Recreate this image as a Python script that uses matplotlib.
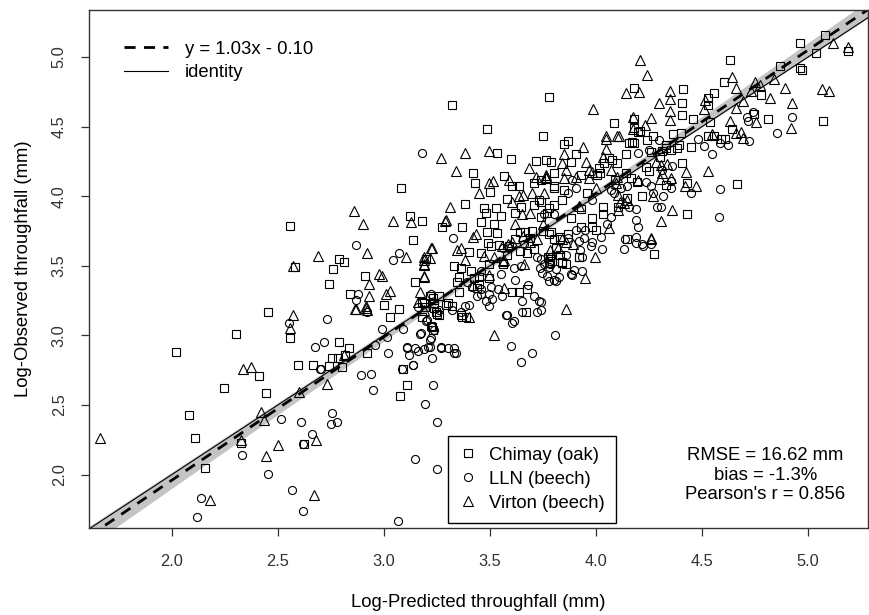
import numpy as np
import matplotlib
matplotlib.use("Agg")
import matplotlib.pyplot as plt
from matplotlib.lines import Line2D

plt.rcParams['font.family'] = ['Liberation Sans', 'DejaVu Sans']

# (log predicted, log observed)
chimay = [
    (2.02, 2.88), (2.30, 3.01), (2.455, 3.17), (2.555, 2.98), (2.41, 2.71), (2.245, 2.62), (2.445, 2.585),
    (2.08, 2.43), (2.11, 2.26), (2.155, 2.045), (2.325, 2.23), (2.625, 2.22), (2.595, 2.79), (2.665, 2.785),
    (2.74, 2.78), (2.755, 2.84), (2.79, 2.95), (2.80, 2.77), (2.835, 2.91), (2.785, 2.835), (2.815, 2.86),
    (2.92, 2.875), (3.075, 2.565), (3.09, 2.755), (3.11, 2.645), (3.03, 3.13), (3.07, 3.19),
    (3.08, 4.06), (2.555, 3.785), (3.125, 3.86), (3.18, 3.82), (3.135, 3.685), (2.58, 3.49), (2.79, 3.55),
    (2.81, 3.53), (2.76, 3.48), (2.74, 3.37), (2.91, 3.425), (3.145, 3.385), (3.20, 3.55), (2.84, 3.30),
    (3.0, 3.22), (4.275, 3.585), (4.145, 3.69), (3.92, 3.56), (3.84, 3.52), (3.86, 3.515),
    (5.08, 5.16), (5.19, 5.045), (4.96, 5.10), (5.04, 5.03), (4.63, 4.98), (4.87, 4.935), (4.96, 4.92),
    (4.97, 4.905), (4.605, 4.82), (4.78, 4.73), (4.555, 4.74), (4.53, 4.705), (4.53, 4.655), (4.41, 4.77),
    (4.405, 4.67), (4.405, 4.58), (4.46, 4.555), (4.54, 4.535), (4.745, 4.59), (4.81, 4.555), (5.07, 4.54),
    (4.64, 4.48), (4.53, 4.43), (4.555, 4.43), (4.59, 4.41), (4.61, 4.41), (4.45, 4.355), (4.365, 4.45),
    (4.40, 4.455), (4.38, 4.345), (4.33, 4.345), (4.31, 4.325), (4.39, 4.37), (4.405, 4.24), (4.33, 4.08),
    (4.43, 4.095), (4.665, 4.09), (4.43, 3.87),
    (3.32, 4.655), (3.78, 4.71), (4.18, 4.78), (3.485, 4.48), (3.75, 4.43), (3.85, 4.375), (3.87, 4.40),
    (4.085, 4.525), (4.18, 4.555), (4.18, 4.49), (4.21, 4.47), (4.17, 4.39), (4.18, 4.38),
    (4.20, 4.46), (4.155, 4.385), (4.14, 4.30), (4.24, 4.405), (4.27, 4.43), (4.33, 4.37), (4.355, 4.33),
    (4.26, 4.32), (4.235, 4.21), (4.25, 4.18), (4.215, 4.0), (4.035, 3.92), (4.035, 3.87), (4.105, 3.92),
    (4.145, 3.99), (3.98, 3.845), (3.98, 3.78), (4.0, 3.76), (3.93, 3.78), (3.83, 3.58), (3.84, 3.53),
    (3.92, 3.565), (3.765, 4.26), (3.79, 4.245), (3.74, 4.12), (3.80, 4.17), (3.80, 4.06), (3.85, 4.045),
    (3.84, 3.975), (3.78, 3.915), (3.74, 3.85), (3.905, 4.30), (3.88, 4.245), (3.93, 4.155), (4.005, 4.155),
    (4.02, 4.17), (4.06, 4.275), (4.075, 4.26), (4.015, 4.20), (4.04, 4.24), (4.10, 4.24), (4.14, 4.17),
    (4.165, 4.13), (4.195, 4.10), (3.79, 3.74), (3.83, 3.71), (3.87, 3.73), (3.80, 3.695),
    (3.535, 4.31), (3.60, 4.27), (3.715, 4.25), (3.42, 4.165), (3.43, 4.095), (3.565, 4.145), (3.605, 4.07),
    (3.635, 4.07), (3.71, 4.095), (3.80, 4.07), (3.50, 4.03), (3.645, 3.925), (3.71, 3.94), (3.73, 3.975),
    (3.74, 3.955), (3.77, 3.88), (3.80, 3.94), (3.62, 3.88), (3.38, 3.945), (3.47, 3.915), (3.48, 3.88),
    (3.53, 3.915), (3.46, 3.815), (3.275, 3.78), (3.37, 3.78), (3.485, 3.745), (3.52, 3.80), (3.64, 3.745),
    (3.535, 3.735), (3.49, 3.665), (3.505, 3.64), (3.545, 3.65), (3.59, 3.64), (3.62, 3.69), (3.665, 3.74),
    (3.70, 3.75), (3.75, 3.75), (3.78, 3.725), (3.83, 3.69), (3.81, 3.63), (3.64, 3.605), (3.675, 3.595),
    (3.71, 3.62), (3.775, 3.56), (3.795, 3.535), (3.56, 3.51), (3.495, 3.51), (3.495, 3.415), (3.46, 3.595),
    (3.45, 3.42), (3.425, 3.41), (3.355, 3.42), (3.345, 3.38), (3.355, 3.31), (3.365, 3.485), (3.44, 3.34),
    (3.45, 3.37), (3.605, 3.315), (3.635, 3.315), (3.67, 3.165), (3.675, 3.33), (3.215, 3.28), (3.26, 3.28),
    (3.30, 3.235), (3.32, 3.21), (3.245, 3.165), (3.19, 3.235), (3.18, 3.135), (3.235, 3.235), (3.365, 3.15),
    (3.385, 3.135), (3.37, 3.13), (3.225, 3.06), (3.23, 3.04), (3.785, 3.56), (3.785, 3.52),
    (3.18, 3.24), (3.195, 3.205), (3.23, 3.27), (3.295, 3.22), (3.235, 3.20), (3.26, 3.15), (3.22, 3.065),
    (3.25, 3.155), (3.41, 3.46), (3.58, 3.58), (3.69, 3.70), (3.55, 3.86), (3.33, 3.50), (3.40, 3.60),
    (3.93, 3.91), (3.96, 4.02), (4.09, 4.12), (4.30, 4.28), (3.58, 3.98), (3.88, 3.84),
]

lln = [
    (2.55, 3.09), (2.33, 2.14), (2.515, 2.40), (2.455, 2.005), (2.135, 1.835), (2.12, 1.695), (2.565, 1.89),
    (2.62, 1.735), (2.61, 2.38), (2.62, 2.22), (2.66, 2.295), (2.755, 2.44), (2.75, 2.365), (2.78, 2.38),
    (2.675, 2.92), (2.715, 2.955), (2.70, 2.755), (2.73, 3.12), (2.89, 2.715), (2.94, 2.72), (2.95, 2.61),
    (2.96, 2.93), (2.99, 3.045), (3.02, 2.875), (3.015, 2.99), (3.065, 1.665), (3.145, 2.115), (3.195, 2.51),
    (3.135, 2.785), (3.11, 2.91), (3.16, 2.885), (3.17, 3.01), (3.09, 3.045), (2.92, 3.17), (3.21, 2.92),
    (3.22, 2.98), (3.23, 2.64), (3.25, 2.38), (3.25, 2.04),
    (3.27, 2.91), (3.30, 2.91), (3.33, 2.91), (3.34, 2.87), (3.60, 2.925), (3.645, 2.81), (3.70, 2.875),
    (3.805, 3.00), (3.18, 4.31), (2.87, 3.65), (3.045, 3.54), (3.07, 3.595), (2.88, 3.30), (2.87, 3.255),
    (3.22, 3.30), (4.135, 3.69), (4.19, 3.665), (4.22, 3.64), (4.13, 3.62), (4.03, 3.62), (4.025, 3.71),
    (3.98, 3.67), (3.975, 3.64), (3.935, 3.56), (3.925, 3.61), (3.88, 3.44), (3.895, 3.47), (3.935, 3.46),
    (3.825, 3.42), (4.71, 4.57), (4.74, 4.605), (4.715, 4.54), (4.925, 4.57), (4.855, 4.455), (4.72, 4.40),
    (4.625, 4.37), (4.585, 4.38), (4.51, 4.36), (4.48, 4.41), (4.545, 4.305), (4.355, 4.11), (4.355, 4.06),
    (4.45, 4.02), (4.315, 4.0), (4.585, 4.055), (4.305, 3.92), (4.58, 3.85),
    (4.295, 4.405), (4.25, 4.33), (4.20, 4.31), (4.31, 4.19), (4.235, 4.10), (4.26, 4.07), (4.27, 4.025),
    (4.29, 3.92), (4.19, 3.91), (4.19, 3.83), (4.20, 3.78), (4.19, 3.71), (4.215, 3.66), (4.26, 3.66),
    (4.07, 3.85), (4.155, 3.92), (3.95, 3.76), (3.905, 3.76), (3.79, 3.565), (3.78, 3.52), (3.81, 3.48),
    (3.745, 3.45), (3.885, 3.435), (3.80, 3.40), (3.74, 3.24), (3.74, 3.185), (3.885, 4.12), (3.905, 4.06),
    (3.87, 4.025), (3.98, 3.975), (4.07, 4.045), (4.085, 4.025), (4.12, 4.06), (4.145, 4.07), (3.755, 3.87),
    (3.80, 3.87), (3.87, 3.70), (3.92, 3.68), (3.945, 3.70),
    (3.325, 3.70), (3.56, 3.63), (3.59, 3.625), (3.66, 3.655), (3.72, 3.565), (3.74, 3.55), (3.755, 3.51),
    (3.78, 3.49), (3.77, 3.43), (3.645, 3.50), (3.615, 3.485), (3.735, 3.485), (3.39, 3.38), (3.415, 3.35),
    (3.44, 3.28), (3.46, 3.33), (3.46, 3.295), (3.48, 3.245), (3.495, 3.21), (3.40, 3.22), (3.38, 3.21),
    (3.505, 3.35), (3.54, 3.33), (3.495, 3.295), (3.51, 3.26), (3.555, 3.28), (3.58, 3.15), (3.615, 3.10),
    (3.575, 3.15), (3.65, 3.245), (3.71, 3.28), (3.73, 3.245), (3.65, 3.17), (3.72, 3.17), (3.365, 3.165),
    (3.32, 3.185), (3.26, 3.185), (3.20, 3.10), (3.175, 3.02), (3.215, 2.97), (3.215, 2.92), (3.33, 2.875),
    (3.225, 2.84), (3.19, 2.90), (3.605, 3.09), (3.785, 3.51), (3.78, 3.39), (3.81, 3.39),
    (3.16, 3.205), (3.205, 3.11), (3.225, 3.06), (3.235, 3.04), (3.11, 2.92), (3.145, 2.91), (3.12, 2.86),
    (3.135, 2.79), (3.085, 2.76), (2.705, 2.76), (3.27, 2.92), (3.62, 3.40), (3.68, 3.36), (3.55, 3.44),
    (3.86, 3.58), (4.05, 3.80), (4.36, 4.22), (3.46, 3.46),
]

virton = [
    (1.66, 2.26), (2.57, 3.15), (2.555, 3.05), (2.335, 2.76), (2.375, 2.77), (2.325, 2.25), (2.42, 2.45),
    (2.435, 2.39), (2.445, 2.13), (2.50, 2.215), (2.18, 1.82), (2.67, 1.85), (2.68, 2.25), (2.60, 2.59),
    (2.73, 2.65), (2.87, 3.19), (2.915, 3.2), (2.81, 2.86),
    (2.86, 3.895), (2.90, 3.80), (3.045, 3.82), (3.13, 3.815), (2.57, 3.50), (2.69, 3.57), (2.92, 3.59),
    (3.105, 3.565), (2.93, 3.37), (2.975, 3.44), (2.99, 3.425), (3.19, 3.425), (3.22, 3.625), (3.19, 3.54),
    (3.19, 3.505), (2.93, 3.28), (3.01, 3.30), (3.03, 3.32), (3.17, 3.31), (2.865, 3.19), (2.915, 3.21),
    (2.92, 3.18), (3.16, 3.24), (3.19, 3.185), (3.52, 3.005), (3.86, 3.19), (4.26, 3.69), (3.995, 3.56),
    (3.95, 3.415),
    (5.12, 5.10), (5.19, 5.07), (4.64, 4.86), (4.75, 4.82), (4.775, 4.80), (4.84, 4.84), (4.66, 4.78),
    (4.89, 4.78), (5.065, 4.77), (5.10, 4.755), (4.73, 4.755), (4.82, 4.705), (4.515, 4.69), (4.51, 4.63),
    (4.695, 4.685), (4.66, 4.635), (4.35, 4.755), (4.35, 4.70), (4.295, 4.67), (4.35, 4.61), (4.35, 4.55),
    (4.63, 4.54), (4.755, 4.535), (4.92, 4.49), (4.925, 4.67), (4.66, 4.455), (4.685, 4.46), (4.695, 4.42),
    (4.545, 4.45), (4.335, 4.23), (4.305, 4.225), (4.425, 4.175), (4.31, 4.165), (4.53, 4.18), (4.355, 4.13),
    (4.42, 4.07), (4.47, 4.07), (4.36, 3.90), (4.305, 3.82),
    (4.21, 4.98), (4.24, 4.87), (3.985, 4.625), (4.14, 4.74), (4.205, 4.75), (4.175, 4.57), (4.26, 4.565),
    (4.23, 4.51), (4.045, 4.43), (4.10, 4.43), (3.94, 4.355),
    (4.175, 4.48), (4.045, 4.41), (4.045, 4.34), (4.035, 4.28), (4.11, 4.43), (4.285, 4.245), (4.30, 4.125),
    (4.27, 4.0), (4.26, 3.70), (4.06, 3.77), (4.13, 3.95), (4.105, 3.90), (3.85, 4.30), (3.84, 4.24),
    (3.86, 4.19), (3.765, 4.13), (3.85, 4.13), (3.905, 4.14), (3.955, 4.245), (3.965, 4.19), (3.965, 4.13),
    (3.98, 4.175), (4.07, 4.19), (4.10, 4.14), (4.095, 4.095), (4.20, 4.12), (4.105, 4.01), (4.115, 3.96),
    (4.145, 3.975), (3.765, 4.155), (3.84, 3.69), (3.86, 3.67), (3.89, 3.66), (3.82, 3.63),
    (3.27, 4.275), (3.38, 4.31), (3.495, 4.325), (3.34, 4.18), (3.495, 4.095), (3.515, 4.11), (3.59, 4.12),
    (3.685, 4.20), (3.715, 4.14), (3.765, 4.14), (3.45, 4.025), (3.605, 3.955), (3.635, 4.0), (3.655, 4.01),
    (3.70, 4.025), (3.755, 4.025), (3.65, 3.87), (3.69, 3.88), (3.31, 3.925), (3.29, 3.82), (3.42, 3.71),
    (3.435, 3.725), (3.555, 3.645), (3.585, 3.66), (3.605, 3.67), (3.655, 3.715), (3.69, 3.67), (3.72, 3.69),
    (3.52, 3.565), (3.565, 3.54), (3.66, 3.515), (3.56, 3.535), (3.495, 3.435), (3.38, 3.545), (3.345, 3.615),
    (3.365, 3.63), (3.225, 3.63), (3.19, 3.565), (3.19, 3.51), (3.19, 3.42), (3.215, 3.555), (3.40, 3.135),
    (3.565, 3.34), (3.785, 3.615), (3.295, 3.83), (3.47, 3.57), (3.62, 3.80), (3.92, 3.93), (3.75, 3.80),
    (3.42, 3.36), (4.00, 4.06),
]

# fitted line and its confidence band
slope, intercept = 1.03, -0.10
band_a, band_b, band_xm = 0.022, 0.034, 3.6

stats_lines = ["RMSE = 16.62 mm", "bias = -1.3%", "Pearson's r = 0.856"]
xticks = [2.0, 2.5, 3.0, 3.5, 4.0, 4.5, 5.0]
yticks = [2.0, 2.5, 3.0, 3.5, 4.0, 4.5, 5.0]
xlim = (1.609, 5.283)
ylim = (1.616, 5.338)

fig = plt.figure(figsize=(8.69, 6.15), dpi=100)
ax = fig.add_axes([89 / 869, 1 - 528 / 615, 779 / 869, 518 / 615])

xx = np.linspace(xlim[0], xlim[1], 200)
yfit = slope * xx + intercept
half = np.sqrt(band_a ** 2 + (band_b * (xx - band_xm)) ** 2)
ax.fill_between(xx, yfit - half, yfit + half, color='#c4c4c4', lw=0, zorder=1)
ax.plot(xx, xx, color='black', lw=0.8, zorder=2)
ax.plot(xx, yfit, color='black', lw=2.0, dashes=(4, 3), zorder=2)

mk = dict(ls='none', mfc='none', mec='black', mew=0.8, zorder=3)
cx, cy = np.array(chimay).T
lx, ly = np.array(lln).T
vx, vy = np.array(virton).T
ax.plot(cx, cy, marker='s', ms=5.2, **mk)
ax.plot(lx, ly, marker='o', ms=5.8, **mk)
ax.plot(vx, vy, marker='^', ms=6.5, **mk)

ax.set_xlim(*xlim)
ax.set_ylim(*ylim)
ax.set_xticks(xticks)
ax.set_yticks(yticks)
ax.set_xticklabels([f"{t:.1f}" for t in xticks])
ax.set_yticklabels([f"{t:.1f}" for t in yticks], rotation=90, va='center')
ax.tick_params(length=6, width=0.9, color='#333333', labelsize=11.8, labelcolor='#333333')
ax.tick_params(axis='x', pad=13)
ax.tick_params(axis='y', pad=10)
for s in ax.spines.values():
    s.set_color('#333333')
    s.set_linewidth(1.0)

ax.set_xlabel("Log-Predicted throughfall (mm)", fontsize=13.3, labelpad=18)
ax.set_ylabel("Log-Observed throughfall (mm)", fontsize=13.3, labelpad=14)

h1 = [Line2D([], [], color='black', lw=2.0, dashes=(4, 3)),
      Line2D([], [], color='black', lw=0.8)]
leg1 = ax.legend(h1, ["y = 1.03x - 0.10", "identity"], loc='upper left',
                 bbox_to_anchor=(0.045, 0.941), frameon=False, fontsize=13.3,
                 borderpad=0, borderaxespad=0, handlelength=2.4, handletextpad=0.9,
                 labelspacing=0.35)
ax.add_artist(leg1)

h2 = [Line2D([], [], marker='s', ms=5.2, **mk),
      Line2D([], [], marker='o', ms=5.8, **mk),
      Line2D([], [], marker='^', ms=6.5, **mk)]
leg2 = ax.legend(h2, ["Chimay (oak)", "LLN (beech)", "Virton (beech)"], loc='lower left',
                 bbox_to_anchor=(0.461, 0.0097), fontsize=13.3, fancybox=False,
                 edgecolor='black', framealpha=1, borderaxespad=0, borderpad=0.6,
                 handlelength=1.0, handletextpad=0.6, labelspacing=0.38)
leg2.get_frame().set_linewidth(1.0)

ax.text(0.868, 0.102, "\n".join(stats_lines), transform=ax.transAxes, ha='center',
        va='center', fontsize=13.3, linespacing=1.2)

fig.savefig("out.png", dpi=100)
